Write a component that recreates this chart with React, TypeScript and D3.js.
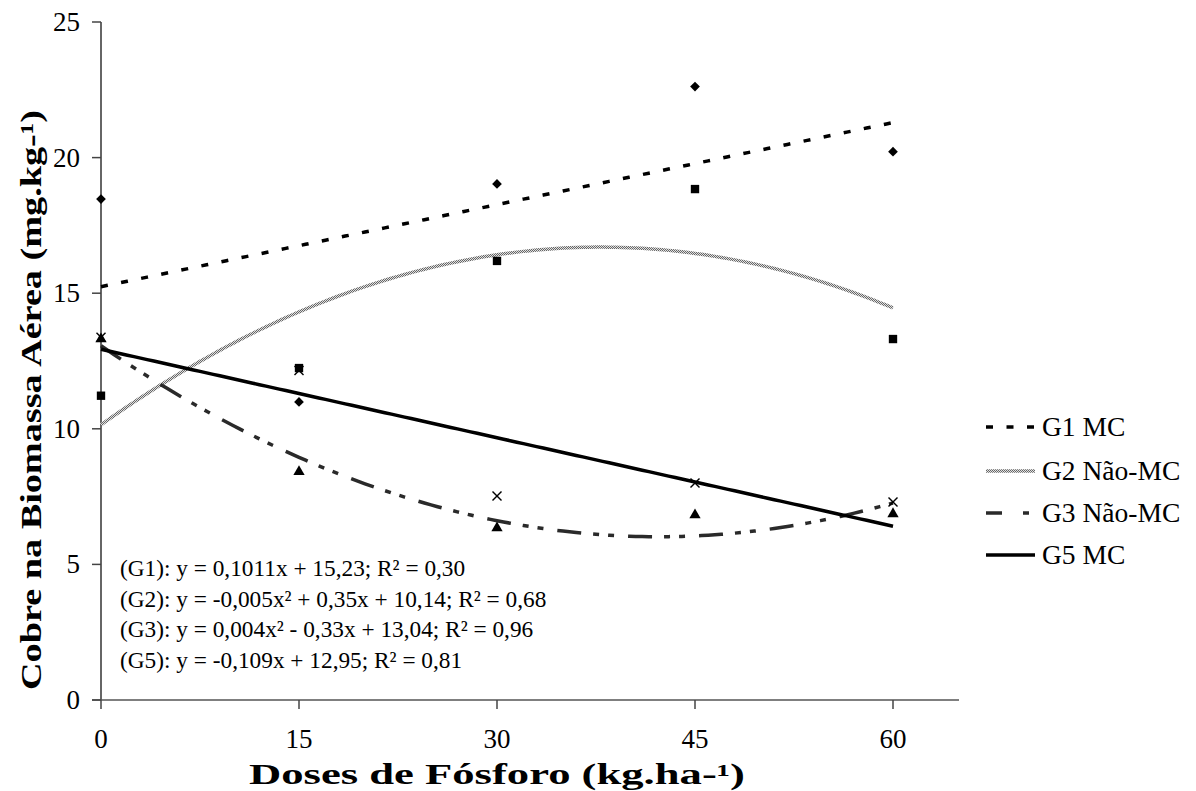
import React from "react";
import * as d3 from "d3";

const doses = [0, 15, 30, 45, 60];
const g1Values = [18.47, 10.99, 19.03, 22.62, 20.22];
const g2Values = [11.22, 12.24, 16.19, 18.84, 13.31];
const g3Values = [13.35, 8.45, 6.38, 6.86, 6.9];
const g5Values = [13.38, 12.15, 7.52, 8.0, 7.3];
const xTicks = [0, 15, 30, 45, 60];
const yTicks = [0, 5, 10, 15, 20, 25];
const legendLabels = ["G1 MC", "G2 Não-MC", "G3 Não-MC", "G5 MC"];
const equations = [
  "(G1): y = 0,1011x + 15,23; R² = 0,30",
  "(G2): y = -0,005x² + 0,35x + 10,14; R² = 0,68",
  "(G3): y = 0,004x² - 0,33x + 13,04; R² = 0,96",
  "(G5): y = -0,109x + 12,95; R² = 0,81",
];
const xTitle = "Doses de Fósforo (kg.ha-¹)";
const yTitle = "Cobre na Biomassa Aérea (mg.kg-¹)";

const FONT = "'Liberation Serif', 'Times New Roman', serif";

function polyFit(xs: number[], ys: number[], deg: number): number[] {
  const n = deg + 1;
  const A: number[][] = Array.from({ length: n }, () => new Array(n + 1).fill(0));
  for (let i = 0; i < xs.length; i++) {
    for (let r = 0; r < n; r++) {
      for (let c = 0; c < n; c++) A[r][c] += Math.pow(xs[i], r + c);
      A[r][n] += ys[i] * Math.pow(xs[i], r);
    }
  }
  for (let p = 0; p < n; p++) {
    let best = p;
    for (let r = p + 1; r < n; r++) if (Math.abs(A[r][p]) > Math.abs(A[best][p])) best = r;
    [A[p], A[best]] = [A[best], A[p]];
    for (let r = 0; r < n; r++) {
      if (r === p) continue;
      const f = A[r][p] / A[p][p];
      for (let c = p; c <= n; c++) A[r][c] -= f * A[p][c];
    }
  }
  return A.map((row, i) => row[n] / row[i]);
}

export default function App() {
  const W = 1196;
  const H = 791;
  const x = d3.scaleLinear().domain([0, 65]).range([101, 959]);
  const y = d3.scaleLinear().domain([0, 25]).range([700, 22]);

  const series = [
    { vals: g1Values, deg: 1 },
    { vals: g2Values, deg: 2 },
    { vals: g3Values, deg: 2 },
    { vals: g5Values, deg: 1 },
  ];
  const samples = d3.range(0, 60.001, 0.5);
  const line = d3
    .line<number[]>()
    .x((d) => x(d[0]))
    .y((d) => y(d[1]));
  const trends = series.map((s) => {
    const coef = polyFit(doses, s.vals, s.deg);
    const pts = samples.map((t) => [t, coef.reduce((acc, c, i) => acc + c * Math.pow(t, i), 0)]);
    return line(pts) as string;
  });

  const styles = [
    { stroke: "#000", width: 3.5, dash: "7,13.5", legendDash: "7,13.5" },
    { stroke: "url(#g2pat)", width: 3.5, dash: undefined, legendDash: undefined },
    { stroke: "#2a2a2a", width: 3.5, dash: "24,12,6,9,6,14", legendDash: "16,21,6,30" },
    { stroke: "#000", width: 3.5, dash: undefined, legendDash: undefined },
  ];

  const diamond = d3.symbol().type(d3.symbolDiamond2 || d3.symbolDiamond).size(60)();
  const square = d3.symbol().type(d3.symbolSquare).size(70)();
  const triangle = d3.symbol().type(d3.symbolTriangle).size(55)();

  const legendY = [427, 471, 513, 555];

  return (
    <svg
      width={W}
      height={H}
      style={{ position: "absolute", left: 0, top: 0, background: "#fff" }}
      fontFamily={FONT}
    >
      <defs>
        <pattern id="g2pat" patternUnits="userSpaceOnUse" width={2} height={2}>
          <rect x={0} y={0} width={2} height={2} fill="#e0e0e0" />
          <rect x={0} y={0} width={1} height={1} fill="#666" />
          <rect x={1} y={1} width={1} height={1} fill="#666" />
        </pattern>
      </defs>

      {/* axes */}
      <line x1={101} x2={101} y1={y(25)} y2={y(0)} stroke="#333" strokeWidth={1.5} />
      <line x1={92} x2={959} y1={y(0)} y2={y(0)} stroke="#555" strokeWidth={1.5} />
      {yTicks.map((t) => (
        <g key={"yt" + t}>
          <line x1={92} x2={101} y1={y(t)} y2={y(t)} stroke="#444" strokeWidth={1.5} />
          <text x={80} y={y(t) + 9} fontSize={27} textAnchor="end" fill="#000">
            {t}
          </text>
        </g>
      ))}
      {xTicks.map((t) => (
        <g key={"xt" + t}>
          <line x1={x(t)} x2={x(t)} y1={y(0)} y2={y(0) + 9} stroke="#444" strokeWidth={1.5} />
          <text x={x(t)} y={748} fontSize={27} textAnchor="middle" fill="#000">
            {t}
          </text>
        </g>
      ))}

      {/* trendlines */}
      {trends.map((d, i) => (
        <path
          key={"tr" + i}
          d={d}
          fill="none"
          stroke={styles[i].stroke}
          strokeWidth={styles[i].width}
          strokeDasharray={styles[i].dash}
        />
      ))}

      {/* markers */}
      {doses.map((dv, i) => (
        <path key={"g1" + i} d={diamond as string} transform={`translate(${x(dv)},${y(g1Values[i])})`} fill="#000" />
      ))}
      {doses.map((dv, i) => (
        <path key={"g2" + i} d={square as string} transform={`translate(${x(dv)},${y(g2Values[i])})`} fill="#000" />
      ))}
      {doses.map((dv, i) => (
        <path key={"g3" + i} d={triangle as string} transform={`translate(${x(dv)},${y(g3Values[i]) + 1})`} fill="#000" />
      ))}
      {doses.map((dv, i) => (
        <g key={"g5" + i} transform={`translate(${x(dv)},${y(g5Values[i])})`} stroke="#000" strokeWidth={1.4}>
          <line x1={-4.5} y1={-4.5} x2={4.5} y2={4.5} />
          <line x1={-4.5} y1={4.5} x2={4.5} y2={-4.5} />
        </g>
      ))}

      {/* equations */}
      {equations.map((e, i) => (
        <text key={"eq" + i} x={120} y={576 + i * 30.5} fontSize={23.3} fill="#000">
          {e}
        </text>
      ))}

      {/* legend */}
      {legendLabels.map((l, i) => (
        <g key={"lg" + i}>
          <line
            x1={986}
            x2={1035}
            y1={legendY[i]}
            y2={legendY[i]}
            stroke={styles[i].stroke}
            strokeWidth={styles[i].width}
            strokeDasharray={styles[i].legendDash}
          />
          <text x={1042} y={legendY[i] + 9} fontSize={27.5} fill="#000">
            {l}
          </text>
        </g>
      ))}

      {/* titles */}
      <text
        x={497}
        y={784}
        fontSize={29}
        fontWeight="bold"
        textAnchor="middle"
        textLength={496}
        lengthAdjust="spacingAndGlyphs"
        fill="#000"
      >
        {xTitle}
      </text>
      <text
        transform="translate(41,400) rotate(-90)"
        fontSize={30}
        fontWeight="bold"
        textAnchor="middle"
        textLength={580}
        lengthAdjust="spacingAndGlyphs"
        fill="#000"
      >
        {yTitle}
      </text>
    </svg>
  );
}
